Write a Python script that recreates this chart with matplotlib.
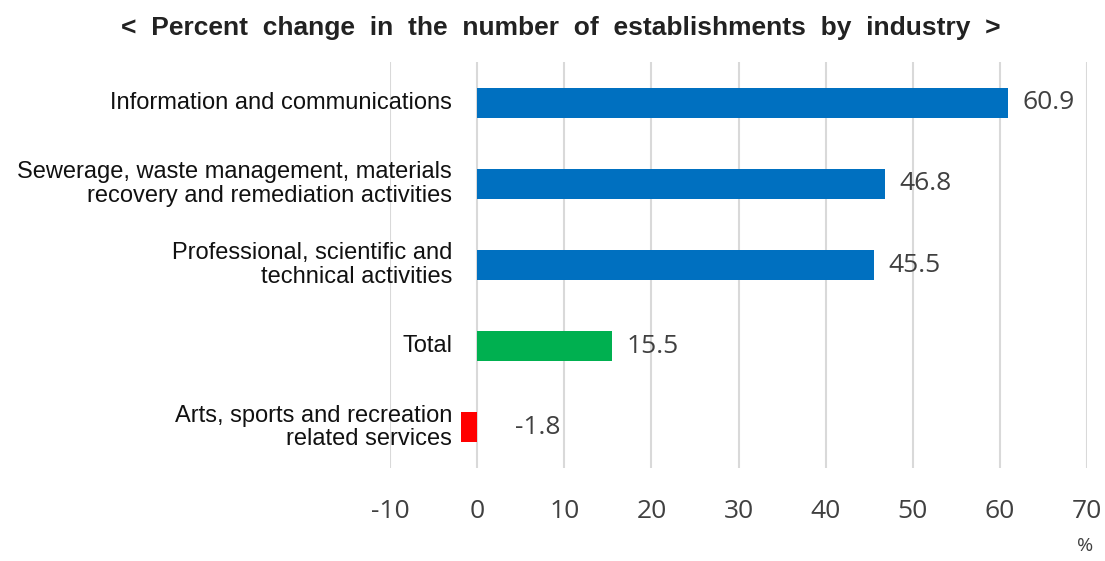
import matplotlib.pyplot as plt

categories = [
    "Information and communications",
    "Sewerage, waste management, materials\nrecovery and remediation activities",
    "Professional, scientific and\ntechnical activities",
    "Total",
    "Arts, sports and recreation\nrelated services",
]
values = [60.9, 46.8, 45.5, 15.5, -1.8]
colors = ["#0070C0", "#0070C0", "#0070C0", "#00B050", "#FF0000"]
xticks = [-10, 0, 10, 20, 30, 40, 50, 60, 70]
title = "< Percent change in the number of establishments by industry >"

num_font = ["Open Sans", "DejaVu Sans"]
lab_font = ["Liberation Sans", "DejaVu Sans"]

fig = plt.figure(figsize=(11.05, 5.61), dpi=100)
ax = fig.add_axes([390 / 1105, 93 / 561, 697 / 1105, 406 / 561])

ypos = list(range(len(categories)))
ax.barh(ypos, values, height=0.37, color=colors, zorder=3)

ax.set_xlim(-10, 70)
ax.set_ylim(len(categories) - 0.5, -0.5)
ax.set_xticks(xticks)
ax.set_xticklabels([str(t) for t in xticks], fontsize=19, color="#404040", family=num_font)
ax.tick_params(axis="x", length=0, pad=22)
ax.set_yticks([])
ax.grid(axis="x", color="#D9D9D9", linewidth=1.5, zorder=0)
for s in ax.spines.values():
    s.set_visible(False)

# category labels sit left of the zero line
for y, lab in zip(ypos, categories):
    ax.annotate(lab, xy=(0, y), xytext=(-18, 0), textcoords="offset points",
                ha="right", va="center", fontsize=17, color="#111111",
                family=lab_font, linespacing=1.1, annotation_clip=False)

# value labels
for y, v in zip(ypos, values):
    if v >= 0:
        ax.annotate(f"{v}", xy=(v, y), xytext=(10.5, 0), textcoords="offset points",
                    ha="left", va="center", fontsize=19, color="#404040", family=num_font)
    else:
        ax.annotate(f"{v}", xy=(0, y), xytext=(27, 0), textcoords="offset points",
                    ha="left", va="center", fontsize=19, color="#404040", family=num_font)

fig.text(1085 / 1105, 1 - 546 / 561, "%", ha="center", va="center", fontsize=14,
         color="#404040", family=num_font)
fig.text(561 / 1105, 1 - 28 / 561, title.replace(" ", "  "),
         ha="center", va="center", fontsize=19, fontweight="bold", color="#222222",
         family=lab_font)

fig.savefig("out.png", dpi=100)
